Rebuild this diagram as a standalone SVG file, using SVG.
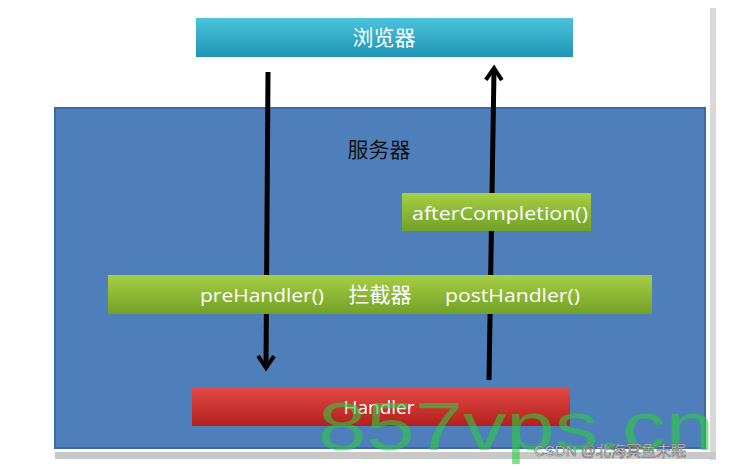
<svg xmlns="http://www.w3.org/2000/svg" width="731" height="469" viewBox="0 0 731 469">
<defs>
<style>
.t{font-family:"Open Sans","Noto Sans CJK SC",sans-serif;fill:#fff}
.c{stroke:#000;stroke-width:5;fill:none}
</style>
<linearGradient id="cy" x1="0" y1="0" x2="0" y2="1"><stop offset="0" stop-color="#4cc3dc"/><stop offset="1" stop-color="#1f94b4"/></linearGradient>
<linearGradient id="gr" x1="0" y1="0" x2="0" y2="1"><stop offset="0" stop-color="#a6cf45"/><stop offset="1" stop-color="#72a126"/></linearGradient>
<linearGradient id="rd" x1="0" y1="0" x2="0" y2="1"><stop offset="0" stop-color="#e34a45"/><stop offset="1" stop-color="#b3201d"/></linearGradient>
<marker id="ah" viewBox="0 0 10 10" refX="6" refY="5" markerWidth="4" markerHeight="4" orient="auto"><path d="M1,1 L7,5 L1,9" fill="none" stroke="#000" stroke-width="2"/></marker>
</defs>
<rect width="731" height="469" fill="#fff"/>
<rect x="710" y="8" width="6" height="452" fill="#d8d8d8"/>
<rect x="55" y="452" width="661" height="7" fill="#c8c8c8"/>
<g id="browser"><rect x="196" y="18" width="377" height="39" fill="url(#cy)"/><text class="t" x="384" y="45" font-size="21" text-anchor="middle">浏览器</text></g>
<g id="server"><rect x="55" y="108" width="650" height="340" fill="#4f7fbb" stroke="#3d6aa5" stroke-width="2"/><text x="379" y="157" font-size="21" text-anchor="middle" style="font-family:'Noto Sans CJK SC',sans-serif;fill:#111">服务器</text></g>
<g id="connectors">
<line class="c" x1="268" y1="72" x2="266" y2="366" marker-end="url(#ah)"/>
<line class="c" x1="489" y1="380" x2="494" y2="70" marker-end="url(#ah)"/>
</g>
<g id="after"><rect x="402" y="193" width="189" height="38" fill="url(#gr)"/><text class="t" x="412" y="220" font-size="19" textLength="176" lengthAdjust="spacingAndGlyphs">afterCompletion()</text></g>
<g id="interceptor"><rect x="108" y="275" width="544" height="39" fill="url(#gr)"/>
<text class="t" x="200" y="302" font-size="19" textLength="124" lengthAdjust="spacingAndGlyphs">preHandler()</text>
<text class="t" x="380" y="302" font-size="21" text-anchor="middle">拦截器</text>
<text class="t" x="445" y="302" font-size="19" textLength="135" lengthAdjust="spacingAndGlyphs">postHandler()</text></g>
<g id="handler"><rect x="192" y="387" width="378" height="39" fill="url(#rd)"/><text class="t" x="379" y="414" font-size="19" text-anchor="middle">Handler</text></g>
<text x="318" y="450" font-size="68" textLength="396" lengthAdjust="spacingAndGlyphs" style="font-family:'Liberation Sans',sans-serif;fill:#2ecc40;opacity:0.6">857vps.cn</text>
<text x="534" y="456" font-size="15" style="font-family:'Liberation Sans','Noto Sans CJK SC',sans-serif;fill:#fff;stroke:#666;stroke-width:0.6">CSDN @北海冥鱼未眠</text>
</svg>
